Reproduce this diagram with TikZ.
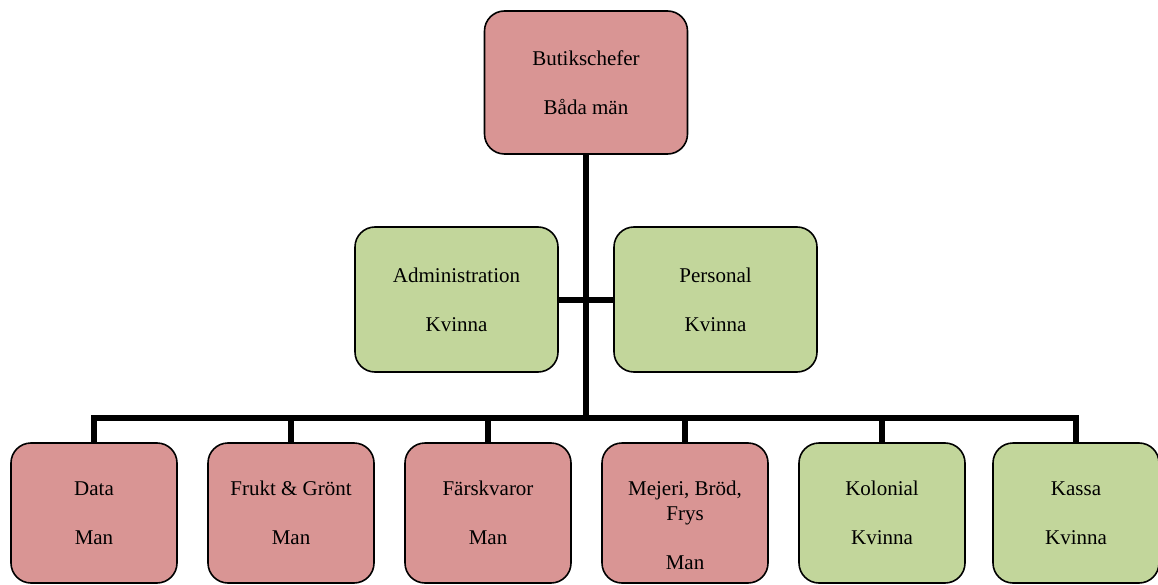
\documentclass[tikz,border=0pt]{standalone}
\usepackage{fontspec}
\setmainfont{Liberation Serif}
\definecolor{pinkfill}{HTML}{D99594}
\definecolor{greenfill}{HTML}{C2D69B}
\begin{document}
\begin{tikzpicture}[x=1pt,y=-1pt,
  box/.style={draw=black,line width=1.6pt,rounded corners=20pt,align=center,
    inner sep=0pt,font=\fontsize{21}{25}\selectfont},
  pinkbox/.style={box,fill=pinkfill},
  greenbox/.style={box,fill=greenfill},
  topbox/.style={minimum width=203pt,minimum height=143pt},
  midbox/.style={minimum width=203pt,minimum height=145pt},
  lowbox/.style={minimum width=166pt,minimum height=140pt},
  conn/.style={line width=6pt,line join=miter}]
\useasboundingbox (0,0) rectangle (1158,585);
% nodes
\node[pinkbox,topbox] (top) at (586,82.5) {Butikschefer\\[24pt]Båda män};
\node[greenbox,midbox] (admin) at (456.5,299.5) {Administration\\[24pt]Kvinna};
\node[greenbox,midbox] (pers) at (715.5,299.5) {Personal\\[24pt]Kvinna};
\node[pinkbox,lowbox] (data) at (94,513) {Data\\[24pt]Man};
\node[pinkbox,lowbox] (frukt) at (291,513) {Frukt \& Grönt\\[24pt]Man};
\node[pinkbox,lowbox] (farsk) at (488,513) {Färskvaror\\[24pt]Man};
\node[pinkbox,lowbox] (mejeri) at (685,513) {\rule{0pt}{40pt}Mejeri, Bröd,\\Frys\\[24pt]Man};
\node[greenbox,lowbox] (kolonial) at (882,513) {Kolonial\\[24pt]Kvinna};
\node[greenbox,lowbox] (kassa) at (1076,513) {Kassa\\[24pt]Kvinna};
\coordinate (bus) at (586,418);
% connectors
\begin{scope}[on background layer/.style={}]
\draw[conn] (top.south) -- (bus);
\draw[conn] (admin.east) -- (pers.west);
\foreach \n in {data,frukt,farsk,mejeri,kolonial,kassa}
  \draw[conn] (bus) -| (\n.north);
\end{scope}
\end{tikzpicture}
\end{document}
